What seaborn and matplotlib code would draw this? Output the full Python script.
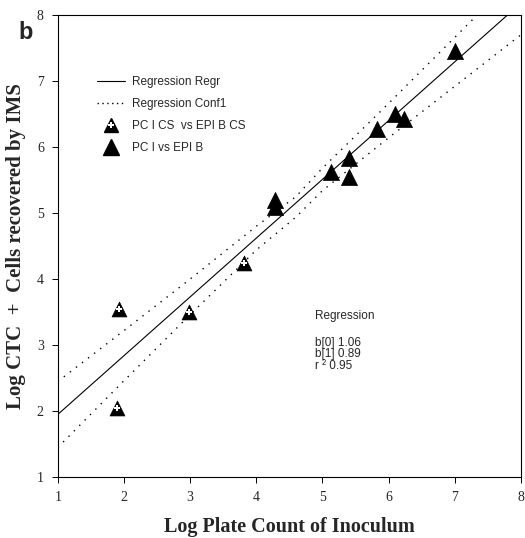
import numpy as np
import pandas as pd
import matplotlib
matplotlib.use("Agg")
import matplotlib.pyplot as plt
from matplotlib.lines import Line2D
from matplotlib.legend_handler import HandlerTuple
import seaborn as sns

sns.set_theme(style="white")
plt.rcParams["font.family"] = ["Liberation Serif", "DejaVu Serif"]

# ---------------------------------------------------------------------------
# data
# ---------------------------------------------------------------------------
cs_x = [1.89, 1.93, 2.98, 3.81]                 # PC I CS vs EPI B CS
cs_y = [2.05, 3.55, 3.50, 4.25]

pc_x = [4.28, 4.28, 5.13, 5.40, 5.40, 5.83, 6.10, 6.23, 7.00]   # PC I vs EPI B
pc_y = [5.20, 5.10, 5.62, 5.83, 5.55, 6.28, 6.50, 6.42, 7.45]

reg_x = [1.0, 8.0]
reg_y = [1.95, 8.18]

conf_x = [1.0, 2.0, 3.0, 4.0, 4.6, 5.0, 6.0, 7.0, 8.0]
conf_hi = [2.45, 3.22, 4.00, 4.80, 5.25, 5.68, 6.66, 7.66, 8.66]
conf_lo = [1.45, 2.46, 3.46, 4.44, 4.94, 5.34, 6.14, 6.92, 7.70]

ticks = [1, 2, 3, 4, 5, 6, 7, 8]

cs = pd.DataFrame({"x": cs_x, "y": cs_y})
pc = pd.DataFrame({"x": pc_x, "y": pc_y})

fig = plt.figure(figsize=(5.25, 5.38), dpi=100)
ax = fig.add_axes([0.110, 0.113, 0.882, 0.859])

sns.lineplot(x=reg_x, y=reg_y, color="black", lw=0.8, ax=ax)
for band in (conf_hi, conf_lo):
    sns.lineplot(x=conf_x, y=band, color="black", lw=1.0,
                 linestyle=(0, (1, 4.5)), ax=ax)

# filled triangles
sns.scatterplot(data=pc, x="x", y="y", marker="^", s=135, color="black",
                edgecolor="black", linewidth=0.5, ax=ax, zorder=4)
# "open" triangles: black triangle with a small white cross inside
sns.scatterplot(data=cs, x="x", y="y", marker="^", s=115, color="black",
                edgecolor="black", linewidth=0.5, ax=ax, zorder=4)
sns.scatterplot(data=cs, x="x", y="y", marker="P", s=18, color="white",
                edgecolor="white", linewidth=0, ax=ax, zorder=5)

ax.set_xlim(1, 8)
ax.set_ylim(1, 8)
ax.set_xticks(ticks)
ax.set_yticks(ticks)
ax.tick_params(axis="both", direction="out", length=4, width=0.7,
               labelsize=10, color="black", pad=6,
               bottom=True, left=True)
for s in ax.spines.values():
    s.set_color("black")
    s.set_linewidth(0.8)

ax.set_xlabel("Log Plate Count of Inoculum", fontsize=14.5, fontweight="bold",
              labelpad=9)
ax.set_ylabel("Log CTC  +  Cells recovered by IMS", fontsize=15,
              fontweight="bold", labelpad=8)

# legend
h_reg = Line2D([], [], color="black", lw=0.8)
h_conf = Line2D([], [], color="black", lw=1.0, linestyle=(0, (1, 2.5)))
h_cs = (Line2D([], [], marker="^", color="black", ms=10, ls=""),
        Line2D([], [], marker="P", color="white", ms=3.8, ls="", mew=0))
h_pc = Line2D([], [], marker="^", color="black", ms=11, ls="")
leg = ax.legend([h_reg, h_conf, h_cs, h_pc],
                ["Regression Regr", "Regression Conf1",
                 "PC I CS  vs EPI B CS", "PC I vs EPI B"],
                handler_map={tuple: HandlerTuple(ndivide=1)},
                loc="upper left", bbox_to_anchor=(0.074, 0.879),
                frameon=False, handlelength=2.4, handletextpad=0.6,
                labelspacing=0.85, borderaxespad=0,
                prop={"family": "Liberation Sans", "size": 8.5})

# regression summary
ax.text(4.89, 3.44, "Regression", fontsize=8.5, family="Liberation Sans",
        va="center", ha="left")
ax.text(4.89, 2.86, "b[0] 1.06\nb[1] 0.89\nr ² 0.95", fontsize=8.5,
        family="Liberation Sans", va="center", ha="left", linespacing=0.95)

fig.text(0.036, 0.94, "b", fontsize=17, fontweight="bold",
         family="Liberation Sans", va="center", ha="left")

fig.savefig("out.png", dpi=100)
